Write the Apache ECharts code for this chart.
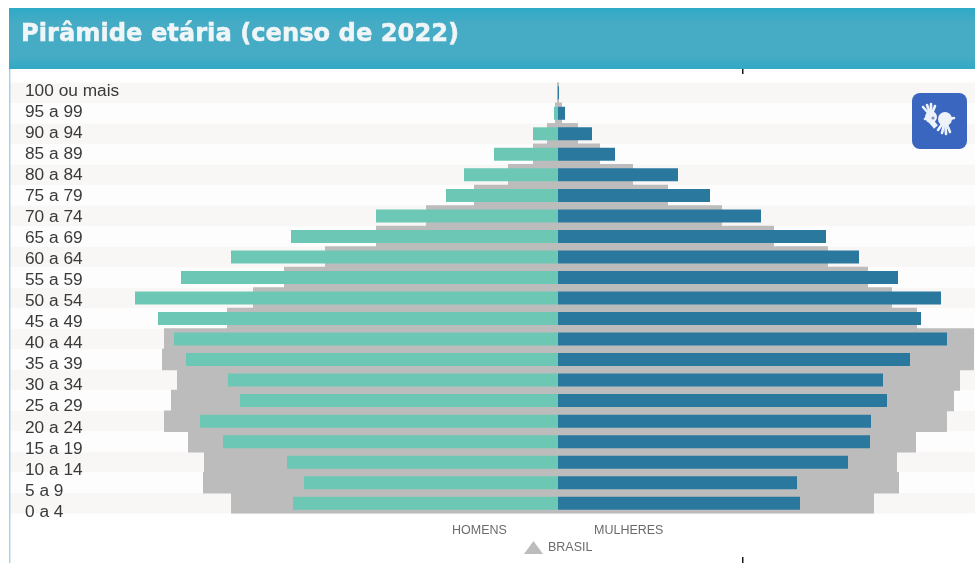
<!DOCTYPE html>
<html lang="pt-BR">
<head>
<meta charset="utf-8">
<title>Pirâmide etária (censo de 2022)</title>
<style>
  html, body { margin: 0; padding: 0; background: #fff; }
  #chart { width: 975px; height: 563px; }
</style>
<script src="https://cdn.jsdelivr.net/npm/echarts@6/dist/echarts.min.js"></script>
</head>
<body>
<div id="chart"></div>
<script>
// Faixas etárias, da mais velha para a mais nova
const faixas = ['100 ou mais','95 a 99','90 a 94','85 a 89','80 a 84','75 a 79','70 a 74','65 a 69','60 a 64','55 a 59','50 a 54','45 a 49','40 a 44','35 a 39','30 a 34','25 a 29','20 a 24','15 a 19','10 a 14','5 a 9','0 a 4'];

// Percentual da população por sexo no município
const homens = [0.005,0.04,0.25,0.64,0.94,1.12,1.82,2.67,3.27,3.77,4.23,4.00,3.84,3.72,3.30,3.18,3.58,3.35,2.71,2.54,2.65];
const mulheres = [0.01,0.07,0.34,0.57,1.20,1.52,2.03,2.68,3.01,3.40,3.83,3.63,3.89,3.52,3.25,3.29,3.13,3.12,2.90,2.39,2.42];

// Percentual da população por sexo no Brasil
const brasilHomens = [0.01,0.03,0.11,0.25,0.50,0.84,1.32,1.82,2.33,2.74,3.05,3.31,3.94,3.96,3.81,3.87,3.94,3.70,3.54,3.55,3.27];
const brasilMulheres = [0.01,0.04,0.20,0.42,0.75,1.10,1.64,2.16,2.70,3.10,3.34,3.59,4.16,4.16,4.02,3.96,3.89,3.58,3.39,3.41,3.16];

const rotuloHomens = 'HOMENS';
const rotuloMulheres = 'MULHERES';
const rotuloBrasil = 'BRASIL';
const titulo = 'Pirâmide etária (censo de 2022)';

const negativo = v => -v;

const chart = echarts.init(document.getElementById('chart'), null, { renderer: 'canvas' });

// Ícone de acessibilidade em Libras: duas mãos sobre um quadrado azul
function dedos(base, pontas) {
  return pontas.map(p => ({
    type: 'line',
    z: 21,
    shape: { x1: base[0], y1: base[1], x2: p[0], y2: p[1] },
    style: { stroke: '#eef2fa', lineWidth: 2.6, lineCap: 'round' }
  }));
}

const iconeLibras = {
  type: 'group',
  z: 20,
  children: [
    { type: 'rect', z: 20, shape: { x: 912, y: 93, width: 55, height: 56, r: 8 }, style: { fill: '#3a66bf' } },
    { type: 'circle', z: 21, shape: { cx: 931, cy: 117, r: 6 }, style: { fill: '#eef2fa' } },
    ...dedos([931, 116], [[923, 107], [927, 105], [931, 104], [935, 106], [925, 119]]),
    { type: 'line', z: 21, shape: { x1: 930, y1: 120, x2: 936, y2: 127 }, style: { stroke: '#eef2fa', lineWidth: 5 } },
    { type: 'circle', z: 21, shape: { cx: 945, cy: 119, r: 7 }, style: { fill: '#eef2fa' } },
    ...dedos([945, 120], [[938, 130], [942, 133], [946, 134], [950, 132], [954, 118]]),
    { type: 'circle', z: 22, shape: { cx: 933, cy: 118, r: 1.6 }, style: { fill: '#7f93c9' } }
  ]
};

chart.setOption({
  animation: false,
  backgroundColor: '#ffffff',
  legend: {
    data: [{ name: rotuloBrasil, icon: 'triangle' }],
    left: 519,
    top: 536,
    itemWidth: 19,
    itemHeight: 13,
    itemGap: 5,
    selectedMode: false,
    textStyle: { fontFamily: 'Liberation Sans', fontSize: 12.5, color: '#6b6b6b', padding: [3, 0, 0, 0] }
  },
  grid: [
    { left: 10, width: 965, top: 82.5, height: 431 },
    { left: 25, width: 60, top: 80.5, height: 442 }
  ],
  xAxis: [
    { gridIndex: 0, type: 'value', min: -5.48, max: 4.17, show: false },
    { gridIndex: 1, type: 'value', min: 0, max: 1, show: false }
  ],
  yAxis: [
    {
      gridIndex: 0, type: 'category', data: faixas, inverse: true,
      axisLine: { show: false }, axisTick: { show: false }, axisLabel: { show: false },
      splitLine: { show: false },
      splitArea: { show: true, interval: 0, areaStyle: { color: ['#f8f7f6', '#fdfdfd'] } }
    },
    {
      gridIndex: 0, type: 'category', data: faixas, inverse: true,
      axisLine: { show: false }, axisTick: { show: false }, axisLabel: { show: false },
      splitLine: { show: false }
    },
    {
      gridIndex: 1, type: 'category', data: faixas, inverse: true,
      axisLine: { show: false }, axisTick: { show: false }, splitLine: { show: false },
      axisLabel: {
        interval: 0, margin: 0, align: 'left',
        fontFamily: 'Liberation Sans', fontSize: 17.3, color: '#3a3a3a'
      }
    }
  ],
  series: [
    {
      name: rotuloBrasil, type: 'bar', xAxisIndex: 0, yAxisIndex: 0, stack: 'brasil',
      barWidth: 21.5, data: brasilHomens.map(negativo),
      itemStyle: { color: '#bdbcbc' }
    },
    {
      name: rotuloBrasil, type: 'bar', xAxisIndex: 0, yAxisIndex: 0, stack: 'brasil',
      barWidth: 21.5, data: brasilMulheres,
      itemStyle: { color: '#bdbcbc' }
    },
    {
      name: rotuloHomens, type: 'bar', xAxisIndex: 0, yAxisIndex: 1, stack: 'local',
      barWidth: 13, data: homens.map(negativo),
      itemStyle: { color: '#6dc7b5' }
    },
    {
      name: rotuloMulheres, type: 'bar', xAxisIndex: 0, yAxisIndex: 1, stack: 'local',
      barWidth: 13, data: mulheres,
      itemStyle: { color: '#2b789f' }
    }
  ],
  graphic: [
    // Faixa do cabeçalho
    {
      type: 'rect', z: 10, shape: { x: 9, y: 8, width: 966, height: 61 },
      style: {
        fill: {
          type: 'linear', x: 0, y: 0, x2: 0, y2: 1,
          colorStops: [
            { offset: 0, color: '#2eaac6' },
            { offset: 0.25, color: '#46abc4' },
            { offset: 0.8, color: '#46abc4' },
            { offset: 1, color: '#2fa9c6' }
          ]
        }
      }
    },
    {
      type: 'text', z: 11, x: 21, y: 35,
      style: {
        text: titulo, fill: '#f0f6f7', font: 'bold 24.2px "DejaVu Sans"',
        stroke: '#f0f6f7', lineWidth: 0.5, verticalAlign: 'middle'
      }
    },
    // Borda esquerda do painel e marcas de corte
    { type: 'rect', z: 10, shape: { x: 9, y: 69, width: 1.5, height: 494 }, style: { fill: '#a9d4e6' } },
    { type: 'rect', z: 10, shape: { x: 742, y: 69, width: 1.5, height: 5 }, style: { fill: '#1a1a1a' } },
    { type: 'rect', z: 10, shape: { x: 742, y: 557, width: 1.5, height: 6 }, style: { fill: '#1a1a1a' } },
    iconeLibras,
    {
      type: 'text', z: 10, x: 452, y: 524,
      style: { text: rotuloHomens, fill: '#6b6b6b', font: '12.5px "Liberation Sans"' }
    },
    {
      type: 'text', z: 10, x: 594, y: 524,
      style: { text: rotuloMulheres, fill: '#6b6b6b', font: '12.5px "Liberation Sans"' }
    }
  ]
});
</script>
</body>
</html>
